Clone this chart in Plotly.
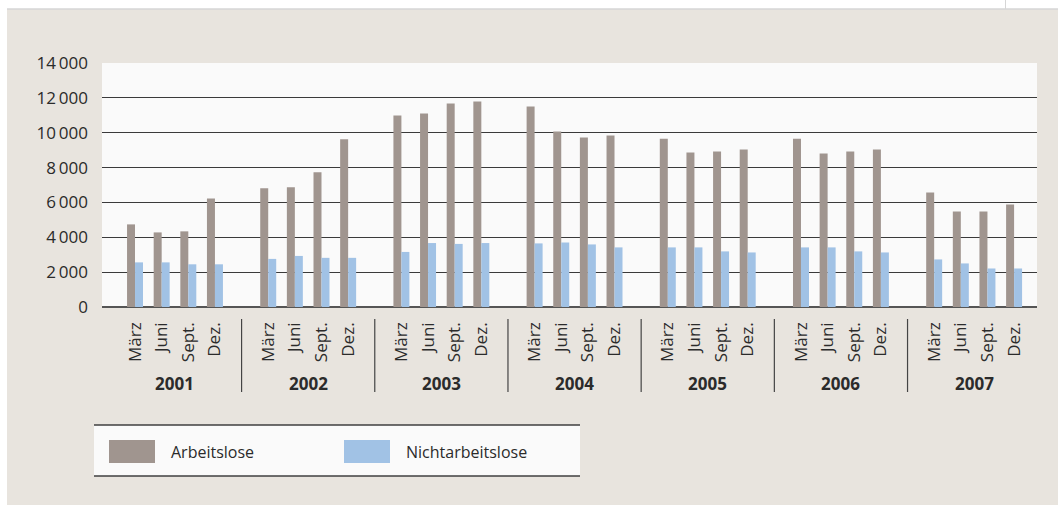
import plotly.graph_objects as go

years = ["2001", "2002", "2003", "2004", "2005", "2006", "2007"]
months = ["März", "Juni", "Sept.", "Dez."]

arbeitslose = [
    4740, 4280, 4340, 6220,
    6820, 6870, 7730, 9620,
    10990, 11100, 11670, 11790,
    11500, 10070, 9730, 9840,
    9660, 8870, 8920, 9040,
    9660, 8810, 8920, 9040,
    6570, 5480, 5480, 5880,
]
nichtarbeitslose = [
    2560, 2560, 2450, 2450,
    2760, 2930, 2820, 2820,
    3160, 3670, 3620, 3670,
    3650, 3700, 3590, 3420,
    3420, 3420, 3190, 3130,
    3420, 3420, 3190, 3130,
    2730, 2500, 2210, 2210,
]
y_ticks = [0, 2000, 4000, 6000, 8000, 10000, 12000, 14000]
y_ticktext = ["0", "2\u2009000", "4\u2009000", "6\u2009000", "8\u2009000",
              "10\u2009000", "12\u2009000", "14\u2009000"]

legend_names = ["Arbeitslose", "Nichtarbeitslose"]
colors = ["#A0958F", "#A1C2E5"]

W, H = 1058, 505
L, R, T, B = 102, 1037, 63, 307
slots_per_year = len(months) + 1

# positions: each year = 4 month slots + one empty slot
pos = [yi * slots_per_year + mi for yi in range(len(years)) for mi in range(len(months))]
labels = [m for _ in years for m in months]


def px(x):
    return (x - L) / (R - L)


def py(y):
    return (B - y) / (B - T)


FONT = "Open Sans"
TXT = "#2b2b2b"
FS = 17

fig = go.Figure()
fig.add_trace(go.Bar(x=pos, y=arbeitslose, name=legend_names[0],
                     marker=dict(color=colors[0], line=dict(width=0))))
fig.add_trace(go.Bar(x=pos, y=nichtarbeitslose, name=legend_names[1],
                     marker=dict(color=colors[1], line=dict(width=0))))

shapes = []
annotations = []

# white strips at top and left, separator line
shapes.append(dict(type="rect", xref="paper", yref="paper", x0=px(0), x1=px(W), y0=py(9), y1=py(0),
                   fillcolor="white", line=dict(width=0), layer="above"))
shapes.append(dict(type="rect", xref="paper", yref="paper", x0=px(0), x1=px(7), y0=py(H), y1=py(0),
                   fillcolor="white", line=dict(width=0), layer="above"))
shapes.append(dict(type="line", xref="paper", yref="paper", x0=px(7), x1=px(W), y0=py(9), y1=py(9),
                   line=dict(color="#d6d6d6", width=1.5), layer="above"))
shapes.append(dict(type="line", xref="paper", yref="paper", x0=px(1005.5), x1=px(1005.5), y0=py(9), y1=py(0),
                   line=dict(color="#d6d6d6", width=1), layer="above"))

# year dividers and year labels
for yi, yr in enumerate(years):
    centre = yi * slots_per_year + (len(months) - 1) / 2
    annotations.append(dict(x=centre, y=py(383), xref="x", yref="paper", text="<b>%s</b>" % yr,
                            showarrow=False, xanchor="center", yanchor="middle",
                            font=dict(family=FONT, size=FS, color=TXT)))
    if yi < len(years) - 1:
        d = yi * slots_per_year + len(months)
        shapes.append(dict(type="line", xref="x", yref="paper", x0=d, x1=d, y0=py(319), y1=py(392),
                           line=dict(color="#444444", width=1.2)))

# legend box
shapes.append(dict(type="rect", xref="paper", yref="paper", x0=px(94), x1=px(580), y0=py(476), y1=py(425),
                   fillcolor="#FAFAFA", line=dict(width=0)))
for yy in (425, 476):
    shapes.append(dict(type="line", xref="paper", yref="paper", x0=px(94), x1=px(580), y0=py(yy), y1=py(yy),
                       line=dict(color="#3f3f3f", width=1.5)))
for x0, name, c in ((109, legend_names[0], colors[0]), (344, legend_names[1], colors[1])):
    shapes.append(dict(type="rect", xref="paper", yref="paper", x0=px(x0), x1=px(x0 + 46),
                       y0=py(463), y1=py(440), fillcolor=c, line=dict(width=0)))
    annotations.append(dict(x=px(x0 + 60), y=py(452), xref="paper", yref="paper", text=name,
                            showarrow=False, xanchor="left", yanchor="middle",
                            font=dict(family=FONT, size=16, color=TXT)))

fig.update_layout(
    width=W, height=H,
    margin=dict(l=L, r=W - R, t=T, b=H - B, pad=0),
    paper_bgcolor="#E8E4DE",
    plot_bgcolor="#FAFAFA",
    barmode="group", bargap=0.40, bargroupgap=0,
    showlegend=False,
    shapes=shapes, annotations=annotations,
    font=dict(family=FONT, size=FS, color=TXT),
)
fig.update_xaxes(range=[-1.24, 33.86], tickmode="array", tickvals=pos, ticktext=labels,
                 tickangle=-90, ticks="", showgrid=False, zeroline=False, showline=False,
                 tickfont=dict(family=FONT, size=FS, color=TXT), ticklabelstandoff=11)
fig.update_yaxes(range=[0, 14000], tickmode="array", tickvals=y_ticks, ticktext=y_ticktext,
                 showgrid=True, gridcolor="#3a3a3a", gridwidth=1, zeroline=True,
                 zerolinecolor="#555555", zerolinewidth=2, ticks="", showline=False,
                 tickfont=dict(family=FONT, size=FS, color=TXT), ticklabelstandoff=13)

fig.write_html("out.html", config={"displayModeBar": False},
               post_script="document.body.style.margin='0px';")
